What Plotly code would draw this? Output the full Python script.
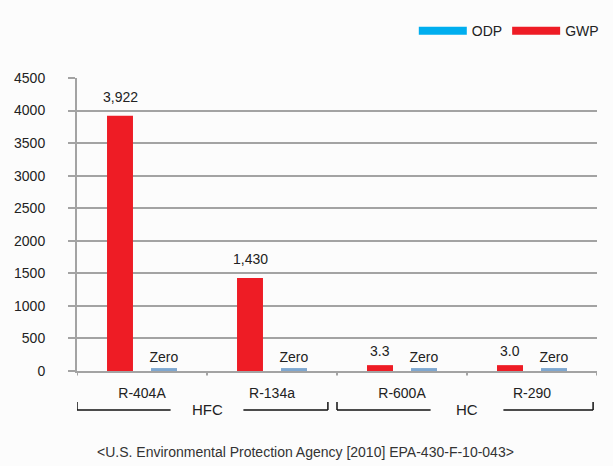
import plotly.graph_objects as go

categories = ["R-404A", "R-134a", "R-600A", "R-290"]
gwp_values = [3922, 1430, 90, 90]          # drawn bar heights
gwp_labels = ["3,922", "1,430", "3.3", "3.0"]
odp_values = [45, 45, 45, 45]             # drawn as thin bars
odp_labels = ["Zero", "Zero", "Zero", "Zero"]
groups = [("HFC", -0.5, 1.5), ("HC", 1.5, 3.5)]
y_ticks = [0, 500, 1000, 1500, 2000, 2500, 3000, 3500, 4000, 4500]
source_text = "<U.S. Environmental Protection Agency [2010] EPA-430-F-10-043>"

RED = "#ee1c25"
BLUE_BAR = "#7ea7d0"
BLUE_LEG = "#00aeef"
GRID = "#a3a3a3"
FONT = "Liberation Sans, Arial, sans-serif"

x = list(range(len(categories)))

fig = go.Figure()
fig.add_bar(x=x, y=gwp_values, marker_color=RED, marker_line_width=0,
            showlegend=False, hoverinfo="skip")
fig.add_bar(x=x, y=odp_values, marker_color=BLUE_BAR, marker_line_width=0,
            text=odp_labels, textposition="outside", cliponaxis=False,
            constraintext="none", hoverinfo="skip",
            textfont=dict(size=14, color="#222"), showlegend=False)
# legend entries
fig.add_scatter(x=[None], y=[None], mode="lines", name="ODP",
                line=dict(color=BLUE_LEG, width=8))
fig.add_scatter(x=[None], y=[None], mode="lines", name="GWP",
                line=dict(color=RED, width=8))

shapes = []
annotations = []
# GWP value labels above red bars
for xi, v, lab in zip(x, gwp_values, gwp_labels):
    annotations.append(dict(text=lab, xref="x", yref="y", x=xi, y=v, xshift=-22,
                            yshift=9 if v > 500 else 4, yanchor="bottom",
                            showarrow=False, font=dict(size=14, color="#222", family=FONT)))

y_br = -0.133
y_top = -0.106
for name, a, b in groups:
    left = a
    right = b - 0.07 if b < 3 else b - 0.03
    mid = (a + b) / 2
    gap = 0.28
    line = dict(color="#111", width=1.5)
    shapes.append(dict(type="line", xref="x", yref="paper", x0=left, x1=left,
                       y0=y_top, y1=y_br, line=line))
    shapes.append(dict(type="line", xref="x", yref="paper", x0=left, x1=mid - gap,
                       y0=y_br, y1=y_br, line=line))
    shapes.append(dict(type="line", xref="x", yref="paper", x0=mid + gap, x1=right,
                       y0=y_br, y1=y_br, line=line))
    shapes.append(dict(type="line", xref="x", yref="paper", x0=right, x1=right,
                       y0=y_top, y1=y_br, line=line))
    annotations.append(dict(text=name, xref="x", yref="paper", x=mid, y=y_br,
                            showarrow=False, yanchor="middle",
                            font=dict(size=15, color="#222", family=FONT)))

annotations.append(dict(text=source_text.replace("<", "&lt;").replace(">", "&gt;"),
                        xref="paper", yref="paper", x=0.44, y=-0.275,
                        showarrow=False, yanchor="middle",
                        font=dict(size=14, color="#333", family=FONT)))

fig.update_layout(
    width=613, height=466,
    margin=dict(l=77, r=16, t=78, b=95, autoexpand=False),
    paper_bgcolor="#fcfcfc", plot_bgcolor="#fcfcfc",
    font=dict(family=FONT, size=14, color="#222"),
    barmode="group", bargap=0.323, bargroupgap=0.41,
    shapes=shapes, annotations=annotations,
    legend=dict(orientation="h", x=0.985, xanchor="right", y=0.933, yanchor="middle",
                yref="container", xref="container",
                font=dict(size=14, color="#222"), bgcolor="rgba(0,0,0,0)",
                itemwidth=48, tracegroupgap=0),
    xaxis=dict(range=[-0.5, 3.5], tickmode="array", tickvals=x, ticktext=categories,
               showgrid=False, zeroline=False, showline=True, linecolor=GRID,
               linewidth=2, ticks="", ticklabelstandoff=8, automargin=False,
               tickfont=dict(size=14, color="#222")),
    yaxis=dict(range=[0, 4500], tickvals=y_ticks, showgrid=True, gridcolor=GRID,
               gridwidth=2, zeroline=False, showline=True, linecolor=GRID, linewidth=2,
               ticks="outside", ticklen=7, tickcolor=GRID, tickwidth=2, automargin=False,
               ticklabelstandoff=20, tickfont=dict(size=14, color="#222")),
)
# category boundary ticks on x-axis
for bnd in [-0.5, 0.5, 1.5, 2.5, 3.5]:
    fig.add_shape(type="line", xref="x", yref="paper", x0=bnd, x1=bnd, y0=0, y1=-0.015,
                  line=dict(color=GRID, width=2))

fig.write_html("out.html", config={"displayModeBar": False},
               post_script="document.body.style.margin='0';document.body.style.overflow='hidden';")
